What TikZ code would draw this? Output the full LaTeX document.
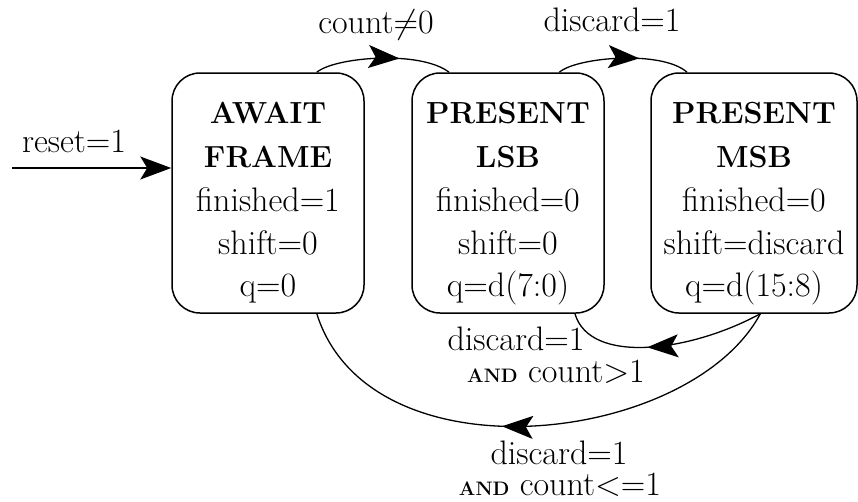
\RequirePackage{fix-cm}
\documentclass[tikz,border=0pt]{standalone}
\usepackage{fontspec}
\usetikzlibrary{arrows.meta,decorations.markings}
\tikzset{
  x=1pt, y=-1pt,
  >={Stealth[length=31pt,width=23pt,inset=7pt]},
  statebox/.style={draw, line width=1.5pt, rounded corners=28pt, minimum height=240pt, inner sep=0pt},
  txt/.style={anchor=base, inner sep=0pt, font=\fontsize{34}{40}\selectfont},
  ttl/.style={anchor=base, inner sep=0pt, font=\fontsize{30.5}{36}\selectfont\bfseries},
  edge/.style={line width=1.3pt},
  midarrow/.style={postaction={decorate}, decoration={markings, mark=at position #1 with {\arrow{>}}}},
}
\newcommand{\andword}{{\fontsize{19.5}{20}\selectfont\bfseries AND}}
\newcommand{\mystate}[8]{%
  \node[statebox, minimum width=#8] (#1) at (#2,193) {};
  \node[ttl] (#1-t1) at (#2,123) {#3};
  \node[ttl] (#1-t2) at (#2,167) {#4};
  \node[txt] (#1-l1) at (#2,211) {#5};
  \node[txt] (#1-l2) at (#2,254) {#6};
  \node[txt] (#1-l3) at (#2,296) {#7};
}
\begin{document}
\begin{tikzpicture}
\useasboundingbox (0,0) rectangle (858,501);
\mystate{a}{268}{AWAIT}{FRAME}{finished=1}{shift=0}{q=0}{192pt}
\mystate{b}{508}{PRESENT}{LSB}{finished=0}{shift=0}{q=d(7:0)}{192pt}
\mystate{c}{754}{PRESENT}{MSB}{finished=0}{shift=discard}{q=d(15:8)}{206pt}

\coordinate (start) at (12,168);
\draw[edge,->] (start) -- (start -| a.west);
\node[txt] (lreset) at (74,152) {reset=1};

\draw[edge, midarrow=0.62] (a.68.6) .. controls (335,57) and (420,50) .. (b.116.9);
\node[txt] (lcount) at (376,33) {count$\neq$0};

\draw[edge, midarrow=0.62] (b.67.8) .. controls (577,57) and (662,50) .. (c.119.9);
\node[txt] (ldisc) at (612,31) {discard=1};

\draw[edge, midarrow=0.58] (c.-87.1) .. controls (690,352) and (590,365) .. (b.-61.9);
\node[txt] (lgt1) at (516,350) {discard=1};
\node[txt] (lgt2) at (556,382) {\andword\ count>1};

\draw[edge, midarrow=0.56] (c.-87.1) .. controls (690,445) and (370,482) .. (a.-68.2);
\node[txt] (lle1) at (559,464) {discard=1};
\node[txt] (lle2) at (560,495) {\andword\ count<=1};
\end{tikzpicture}
\end{document}
